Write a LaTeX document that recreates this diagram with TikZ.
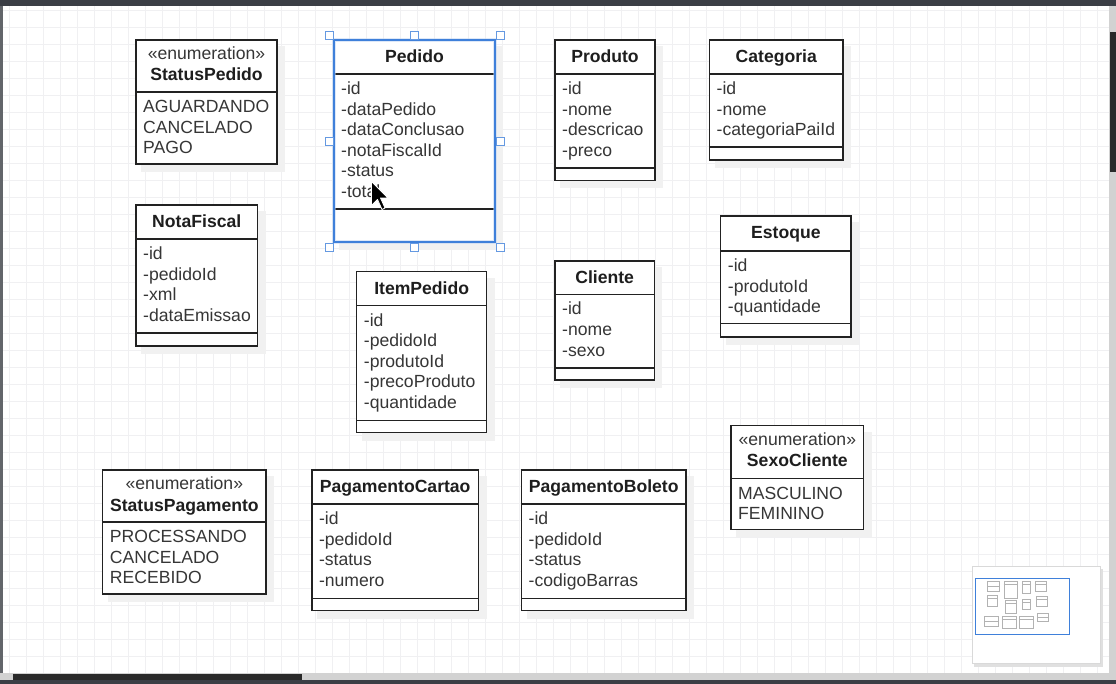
\documentclass[tikz,border=0pt]{standalone}
\usepackage{fontspec}
\setmainfont{Liberation Sans}
\usetikzlibrary{positioning}

\definecolor{linec}{HTML}{222222}
\definecolor{titlec}{HTML}{1E1E1E}
\definecolor{textc}{HTML}{363636}
\definecolor{gridc}{HTML}{F0F0F2}
\definecolor{selblue}{HTML}{3F80DA}
\definecolor{barc}{HTML}{3B3E45}
\definecolor{trackc}{HTML}{D2D2D2}
\definecolor{thumbc}{HTML}{2A2A2A}
\definecolor{shadowc}{HTML}{F1F1F1}

% little grey copy of a box in the outline panel
\newcommand{\minimapbox}[5]{%
  \draw[minibox] ({975.7+0.0839*(#1)},{578.3+0.0814*(#2)}) rectangle ++({0.0839*(#3)},{0.0814*(#4)});
  \draw[minibox] ({975.7+0.0839*(#1)},{578.3+0.0814*(#2+#5)}) -- ++({0.0839*(#3)},0);
}

% name, x, y, width, header, body, footer, title, attributes
\newcommand{\umlclass}[9]{%
  \fill[shadowc] (#2+5,#3+6) rectangle ++(#4+3,#5+#6+#7+2);
  \node[classbox, minimum width=#4, minimum height=#5+#6+#7] (#1) at (#2,#3) {};
  \draw[sepline] ([yshift=-#5]#1.north west) -- ([yshift=-#5]#1.north east);
  \draw[sepline] ([yshift=-#5-#6]#1.north west) -- ([yshift=-#5-#6]#1.north east);
  \node[classtitle] (#1-title) at (#2+#4/2,#3+22.5) {#8};
  \foreach \entry [count=\n] in {#9}
    \node[attr] (#1-\n) at (#2+7,#3+#5+20.5+\n*20.6-20.6) {\entry};
  \minimapbox{#2}{#3}{#4}{#5+#6+#7}{#5}
}

% name, x, y, width, header, body, title, literals
\newcommand{\umlenum}[8]{%
  \fill[shadowc] (#2+5,#3+6) rectangle ++(#4+3,#5+#6+2);
  \node[classbox, minimum width=#4, minimum height=#5+#6] (#1) at (#2,#3) {};
  \draw[sepline] ([yshift=-#5]#1.north west) -- ([yshift=-#5]#1.north east);
  \node[stereo] (#1-stereo) at (#2+#4/2,#3+19.3) {«enumeration»};
  \node[classtitle] (#1-title) at (#2+#4/2,#3+41) {#7};
  \foreach \entry [count=\n] in {#8}
    \node[attr] (#1-\n) at (#2+7,#3+#5+20.5+\n*20.6-20.6) {\entry};
  \minimapbox{#2}{#3}{#4}{#5+#6}{#5}
}

\begin{document}
\begin{tikzpicture}[x=1pt,y=-1pt,
  classbox/.style={draw=linec, line width=1.4pt, fill=white, anchor=north west, inner sep=0pt, outer sep=0pt},
  sepline/.style={draw=linec, line width=1.4pt},
  classtitle/.style={font=\bfseries\fontsize{17.6}{21}\selectfont, text=titlec, anchor=base, inner sep=0pt},
  stereo/.style={font=\fontsize{17.6}{21}\selectfont, text=textc, anchor=base, inner sep=0pt},
  attr/.style={font=\fontsize{17.6}{21}\selectfont, text=textc, anchor=base west, inner sep=0pt},
  gridline/.style={draw=gridc, line width=0.6pt},
  minibox/.style={draw=black!30, line width=0.4pt},
  handle/.style={draw=selblue!80, fill=white, line width=0.9pt, minimum size=8pt, inner sep=0pt}]

  % canvas and grid
  \fill[white] (0,0) rectangle (1116,684);
  \foreach \gx in {9.3,26.3,...,1109}
    \draw[gridline] (\gx,6) -- (\gx,673);
  \foreach \gy in {10.3,27.3,...,673}
    \draw[gridline] (3,\gy) -- (1109,\gy);

  % window frame and scroll bars
  \fill[barc] (0,0) rectangle (1116,6);
  \fill[barc!80] (0,6) rectangle (3,673);
  \fill[trackc] (1109,6) rectangle (1116,673);
  \fill[thumbc] (1110,32) rectangle (1116,172);
  \fill[trackc] (0,673) rectangle (1116,679.5);
  \fill[thumbc] (13,673.5) rectangle (302,679.5);
  \fill[barc] (0,679.5) rectangle (1116,684);

  % outline panel
  \fill[black!12] (974,569) rectangle (1103,666.5);
  \fill[white, draw=black!15] (971.7,566) rectangle (1100,663.3);
  \draw[selblue, line width=1pt] (975.7,578.3) rectangle (1069.3,634);

  % classes
  \umlenum{statusPedido}{136}{40}{141}{52}{72}{StatusPedido}{AGUARDANDO,CANCELADO,PAGO}
  \umlclass{pedido}{334}{40}{161}{34}{135}{33}{Pedido}{-id,-dataPedido,-dataConclusao,-notaFiscalId,-status,-total}
  \umlclass{produto}{555}{40}{100}{34}{94}{12.5}{Produto}{-id,-nome,-descricao,-preco}
  \umlclass{categoria}{709.5}{40}{133.5}{34}{73}{13}{Categoria}{-id,-nome,-categoriaPaiId}
  \umlclass{notaFiscal}{136}{205}{121.5}{34}{94}{13}{NotaFiscal}{-id,-pedidoId,-xml,-dataEmissao}
  \umlclass{itemPedido}{356.7}{271.7}{130}{34}{114.6}{12.4}{ItemPedido}{-id,-pedidoId,-produtoId,-precoProduto,-quantidade}
  \umlclass{cliente}{555}{261}{99.3}{33.3}{73.7}{12}{Cliente}{-id,-nome,-sexo}
  \umlclass{estoque}{720.7}{216}{130.3}{35}{72.3}{13.7}{Estoque}{-id,-produtoId,-quantidade}
  \umlenum{sexoCliente}{731}{425.7}{132.7}{53}{50.6}{SexoCliente}{MASCULINO,FEMININO}
  \umlenum{statusPagamento}{102.7}{470}{163.3}{52}{72}{StatusPagamento}{PROCESSANDO,CANCELADO,RECEBIDO}
  \umlclass{pagamentoCartao}{311.8}{470}{166.8}{34}{94.7}{12}{PagamentoCartao}{-id,-pedidoId,-status,-numero}
  \umlclass{pagamentoBoleto}{521.5}{470}{164.5}{34}{94.7}{12}{PagamentoBoleto}{-id,-pedidoId,-status,-codigoBarras}

  % Pedido is selected
  \draw[selblue!35, line width=4pt, opacity=0.5] (pedido.north west) rectangle (pedido.south east);
  \draw[selblue, line width=1.6pt] (pedido.north west) rectangle (pedido.south east);
  \node[anchor=north west, minimum width=171, minimum height=212, inner sep=0pt, outer sep=0pt] (pedido-sel) at (329,35) {};
  \foreach \p/\q in {north west/nw,north/n,north east/ne,west/w,east/e,south west/sw,south/s,south east/se}
    \node[handle] (handle-\q) at (pedido-sel.\p) {};

  % mouse pointer
  \filldraw[fill=black, draw=white, line width=0.8pt, line join=round]
    (371.5,181.5) -- ++(0,24) -- ++(6,-6) -- ++(4.5,10) -- ++(3,-1.5)
    -- ++(-4.5,-10) -- ++(7.5,0) -- cycle;

\end{tikzpicture}
\end{document}
